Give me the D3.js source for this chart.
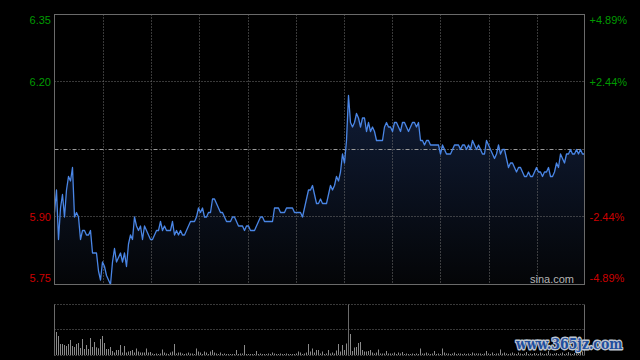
<!DOCTYPE html>
<html><head><meta charset="utf-8">
<script src="https://cdn.jsdelivr.net/npm/d3@7"></script>
<style>html,body{margin:0;padding:0;background:#000;overflow:hidden}</style>
</head><body>
<svg id="c" width="640" height="360"></svg>
<script>
const prices = [
5.91,5.96,5.85,5.92,5.95,5.90,5.96,5.99,5.98,6.01,
5.90,5.91,5.90,5.85,5.87,5.87,5.86,5.86,5.87,5.82,
5.82,5.82,5.78,5.76,5.80,5.79,5.77,5.76,5.75,5.80,
5.83,5.80,5.81,5.82,5.80,5.82,5.79,5.84,5.86,5.85,
5.90,5.88,5.87,5.88,5.85,5.88,5.87,5.86,5.85,5.85,
5.86,5.87,5.87,5.89,5.87,5.88,5.87,5.87,5.87,5.89,
5.86,5.87,5.86,5.87,5.86,5.86,5.87,5.88,5.89,5.89,
5.89,5.90,5.92,5.91,5.92,5.90,5.90,5.91,5.91,5.94,
5.94,5.93,5.92,5.91,5.91,5.90,5.89,5.89,5.89,5.90,
5.90,5.89,5.88,5.88,5.88,5.87,5.88,5.88,5.87,5.87,
5.87,5.88,5.89,5.90,5.90,5.89,5.89,5.89,5.89,5.89,
5.92,5.92,5.92,5.91,5.91,5.91,5.92,5.92,5.92,5.92,
5.91,5.91,5.91,5.91,5.90,5.92,5.94,5.96,5.96,5.97,
5.95,5.93,5.93,5.94,5.93,5.93,5.93,5.95,5.97,5.96,
5.97,5.99,5.98,6.00,6.04,6.02,6.07,6.17,6.11,6.10,
6.11,6.13,6.12,6.10,6.12,6.12,6.09,6.11,6.09,6.10,
6.09,6.07,6.07,6.07,6.07,6.10,6.11,6.10,6.10,6.09,
6.11,6.11,6.10,6.09,6.11,6.11,6.10,6.09,6.10,6.11,
6.11,6.10,6.11,6.07,6.07,6.06,6.07,6.07,6.06,6.06,
6.06,6.06,6.06,6.04,6.06,6.05,6.04,6.04,6.04,6.05,
6.06,6.06,6.06,6.05,6.06,6.06,6.05,6.06,6.05,6.07,
6.06,6.05,6.06,6.05,6.04,6.04,6.07,6.06,6.05,6.04,
6.03,6.04,6.06,6.04,6.05,6.05,6.03,6.01,6.02,6.02,
6.01,6.00,6.01,6.01,6.00,5.99,5.99,6.00,5.99,5.99,
6.00,6.01,6.00,6.00,5.99,6.00,6.00,6.01,5.99,5.99,
6.00,6.02,6.01,6.04,6.03,6.02,6.04,6.04,6.05,6.04,
6.04,6.05,6.04,6.05,6.04,6.04
];
const volumes = [
217,230,190,110,110,100,90,110,150,90,
80,110,120,70,160,60,100,60,170,80,
130,77,67,160,190,120,60,60,80,40,
25,50,50,100,25,90,25,35,40,50,
25,65,35,25,25,25,65,25,30,15,
10,15,10,15,55,25,15,10,25,35,
110,15,25,25,15,10,15,25,15,15,
10,65,35,25,10,35,25,10,35,50,
25,15,10,25,10,15,10,10,10,10,
10,50,10,15,15,100,10,10,10,10,
10,40,10,15,10,10,10,15,10,25,
15,10,10,15,10,10,15,10,10,10,
10,15,35,25,10,15,25,110,35,65,
25,50,50,15,35,10,15,50,15,25,
15,45,110,35,100,50,115,65,210,40,
75,80,120,130,50,35,35,40,50,25,
15,25,55,15,15,15,40,15,15,15,
25,10,25,15,30,10,15,10,10,15,
10,15,10,65,15,15,25,15,10,15,
40,10,15,10,65,25,15,15,10,15,
25,10,15,15,10,15,10,15,10,25,
15,15,15,15,10,15,40,15,10,25,
10,15,15,55,15,25,15,10,15,25,
15,10,25,15,10,15,30,10,15,10,
20,15,10,25,15,10,15,40,15,10,
15,20,10,15,25,10,15,30,15,10,
20,15,10,25,35,60
];
const priceTicks = [6.35, 6.20, 5.90, 5.75];
const priceLabels = ["6.35", "6.20", "5.90", "5.75"];
const pctLabels = ["+4.89%", "+2.44%", "-2.44%", "-4.89%"];
const prevClose = 6.05;
const priceDomain = [5.75, 6.35];
const volumeMax = 500;
const timeSlots = 11;
const markIndex = 147;
const sourceText = "sina.com";
const watermarkText = "www.365jz.com";

const svg = d3.select('#c');
const L = 54.5, R = 584.5, T = 14.5, B = 284.5;
const VT = 304.5, VM = 329.5, VB = 355.5;

const x = d3.scaleLinear().domain([0, prices.length - 1]).range([L, R]);
const y = d3.scaleLinear().domain(priceDomain).range([B, T]);
const v = d3.scaleLinear().domain([0, volumeMax]).range([355, 305]);
const xg = d3.scaleLinear().domain([0, timeSlots]).range([L, R]);

svg.append('rect').attr('width', 640).attr('height', 360).attr('fill', '#000');

const defs = svg.append('defs');
const grad = defs.append('linearGradient').attr('id', 'ag')
  .attr('gradientUnits', 'userSpaceOnUse').attr('x1', 0).attr('y1', T).attr('x2', 0).attr('y2', B);
grad.append('stop').attr('offset', '0%').attr('stop-color', '#15264a');
grad.append('stop').attr('offset', '100%').attr('stop-color', '#040507');

const area = d3.area().x((d, i) => x(i)).y0(B).y1(d => y(d));
svg.append('path').datum(prices).attr('d', area).attr('fill', 'url(#ag)');

const gridColor = '#727272';
const vg = d3.range(1, timeSlots);
svg.selectAll('.vg').data(vg).enter().append('line')
  .attr('x1', d => Math.round(xg(d) + 0.4) + 0.5).attr('x2', d => Math.round(xg(d) + 0.4) + 0.5)
  .attr('y1', T).attr('y2', B)
  .attr('stroke', gridColor).attr('stroke-dasharray', '1,2');
svg.selectAll('.hg').data(priceTicks.slice(1, 3)).enter().append('line')
  .attr('x1', L).attr('x2', R)
  .attr('y1', d => Math.round(y(d) - 0.5) + 0.5).attr('y2', d => Math.round(y(d) - 0.5) + 0.5)
  .attr('stroke', gridColor).attr('stroke-dasharray', '1,2');
svg.append('line').attr('x1', L).attr('x2', R)
  .attr('y1', Math.round(y(prevClose) - 0.5) + 0.5).attr('y2', Math.round(y(prevClose) - 0.5) + 0.5)
  .attr('stroke', '#9a9a9a').attr('stroke-dasharray', '4,2,1,2');

const line = d3.line().x((d, i) => x(i)).y(d => y(d));
svg.append('path').datum(prices).attr('d', line)
  .attr('fill', 'none').attr('stroke', '#4a86e6').attr('stroke-width', 1.3).attr('stroke-linejoin', 'round');

svg.append('rect').attr('x', L).attr('y', T).attr('width', R - L).attr('height', B - T)
  .attr('fill', 'none').attr('stroke', '#6a6a6a');

const font = 'Liberation Sans, Arial, sans-serif';
const labelY = d => Math.max(T + 9.5, Math.min(B - 2.5, y(d) + 4));
const colorOf = d => d > prevClose ? '#009a00' : '#cc0000';
svg.selectAll('.ll').data(priceTicks).enter().append('text')
  .attr('x', 51).attr('y', labelY).attr('text-anchor', 'end')
  .attr('font-family', font).attr('font-size', 11).attr('fill', colorOf)
  .text((d, i) => priceLabels[i]);
svg.selectAll('.rl').data(priceTicks).enter().append('text')
  .attr('x', 589.5).attr('y', labelY).attr('text-anchor', 'start')
  .attr('font-family', font).attr('font-size', 11).attr('fill', colorOf)
  .text((d, i) => pctLabels[i]);

svg.append('text').attr('x', 574).attr('y', 283).attr('text-anchor', 'end')
  .attr('font-family', font).attr('font-size', 11).attr('fill', '#b4b4b4').text(sourceText);

[VT, VM, VB].forEach(yy => {
  svg.append('line').attr('x1', L).attr('x2', R).attr('y1', yy).attr('y2', yy)
    .attr('stroke', gridColor).attr('stroke-dasharray', '1,2');
});
svg.selectAll('.vb').data(volumes).enter().append('rect')
  .attr('x', (d, i) => Math.floor(x(i))).attr('width', 1)
  .attr('y', d => v(d)).attr('height', d => 355 - v(d))
  .attr('fill', '#8a8a8a');
[L, R, Math.floor(x(markIndex)) + 0.5].forEach(px => {
  svg.append('line').attr('x1', px).attr('x2', px).attr('y1', VT).attr('y2', VB)
    .attr('stroke', '#6a6a6a');
});

svg.append('text').attr('transform', 'translate(516,349) scale(1,1.25)')
  .attr('font-family', 'DejaVu Serif, serif').attr('font-weight', 'bold').attr('font-size', 12.5)
  .attr('fill', '#1f4f9e').attr('stroke', '#bfc6d0').attr('stroke-width', 2.2)
  .attr('paint-order', 'stroke').attr('stroke-linejoin', 'round')
  .text(watermarkText);
</script>
</body></html>
